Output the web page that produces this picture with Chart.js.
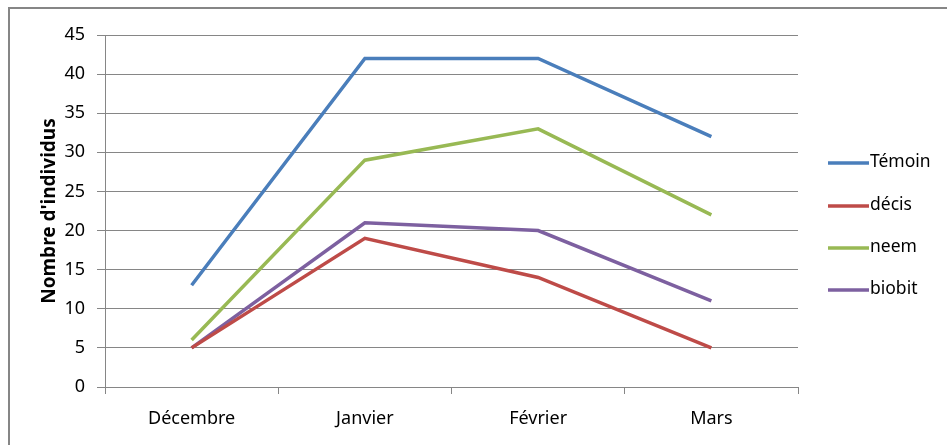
<!DOCTYPE html>
<html>
<head>
<meta charset="utf-8">
<script src="https://cdn.jsdelivr.net/npm/chart.js@4.4.0/dist/chart.umd.min.js"></script>
<style>
html,body{margin:0;padding:0;background:#fff;}
#wrap{width:947px;height:445px;position:relative;}
</style>
</head>
<body>
<div id="wrap"><canvas id="c" width="947" height="445"></canvas></div>
<script>
const categories = ["Décembre", "Janvier", "Février", "Mars"];
const seriesNames = ["Témoin", "décis", "neem", "biobit"];
const temoin = [13, 42, 42, 32];
const decis = [5, 19, 14, 5];
const neem = [6, 29, 33, 22];
const biobit = [5, 21, 20, 11];
const yTicks = [0, 5, 10, 15, 20, 25, 30, 35, 40, 45];
const yTitle = "Nombre d'individus";

const colors = ["#4A7EBB", "#BE4B48", "#98B954", "#7D60A0"];
const FONT = "'Noto Sans', sans-serif";

const borderPlugin = {
  id: 'outerBorder',
  afterDraw(chart) {
    const ctx = chart.ctx;
    ctx.save();
    ctx.strokeStyle = '#868686';
    ctx.lineWidth = 2;
    ctx.beginPath();
    ctx.moveTo(9, 445);
    ctx.lineTo(9, 8);
    ctx.lineTo(947, 8);
    ctx.stroke();
    // legend
    const ds = chart.data.datasets;
    const ys = [163, 206, 248, 290];
    ctx.font = "17.5px " + FONT;
    ctx.textBaseline = 'middle';
    ctx.textAlign = 'left';
    ds.forEach((d, i) => {
      ctx.strokeStyle = d.borderColor;
      ctx.lineWidth = 3.5;
      ctx.beginPath();
      ctx.moveTo(828, ys[i]);
      ctx.lineTo(869, ys[i]);
      ctx.stroke();
      ctx.fillStyle = '#000';
      ctx.fillText(d.label, 870, ys[i] - 1);
    });
    ctx.restore();
  }
};

const dataSeries = [temoin, decis, neem, biobit];
new Chart(document.getElementById('c'), {
  type: 'line',
  data: {
    labels: categories,
    datasets: seriesNames.map((n, i) => ({
      label: n,
      data: dataSeries[i],
      borderColor: colors[i],
      backgroundColor: colors[i],
      borderWidth: 3.5,
      pointRadius: 0,
      tension: 0,
      fill: false
    }))
  },
  options: {
    responsive: false,
    animation: false,
    devicePixelRatio: 1,
    layout: { padding: { left: 38, right: 149, top: 35, bottom: 0 } },
    plugins: { legend: { display: false }, tooltip: { enabled: false } },
    scales: {
      x: {
        offset: true,
        grid: { offset: true, drawOnChartArea: false, drawTicks: true, tickLength: 7, color: '#868686', lineWidth: 1 },
        border: { color: '#868686', width: 1 },
        ticks: { color: '#000', font: { family: FONT, size: 18 }, padding: 14 },
        afterFit(s) { s.height = 58; }
      },
      y: {
        min: 0, max: 45,
        afterBuildTicks(s) { s.ticks = yTicks.map(v => ({ value: v })); },
        grid: { color: '#868686', lineWidth: 1, tickLength: 8 },
        border: { color: '#868686', width: 1 },
        ticks: { color: '#000', font: { family: FONT, size: 18 }, padding: 12 },
        title: { display: true, text: yTitle, color: '#000', font: { family: FONT, size: 19, weight: 'bold' }, padding: { top: 0, bottom: 0 } },
        afterFit(s) { s.width = 67; }
      }
    }
  },
  plugins: [borderPlugin]
});
</script>
</body>
</html>
